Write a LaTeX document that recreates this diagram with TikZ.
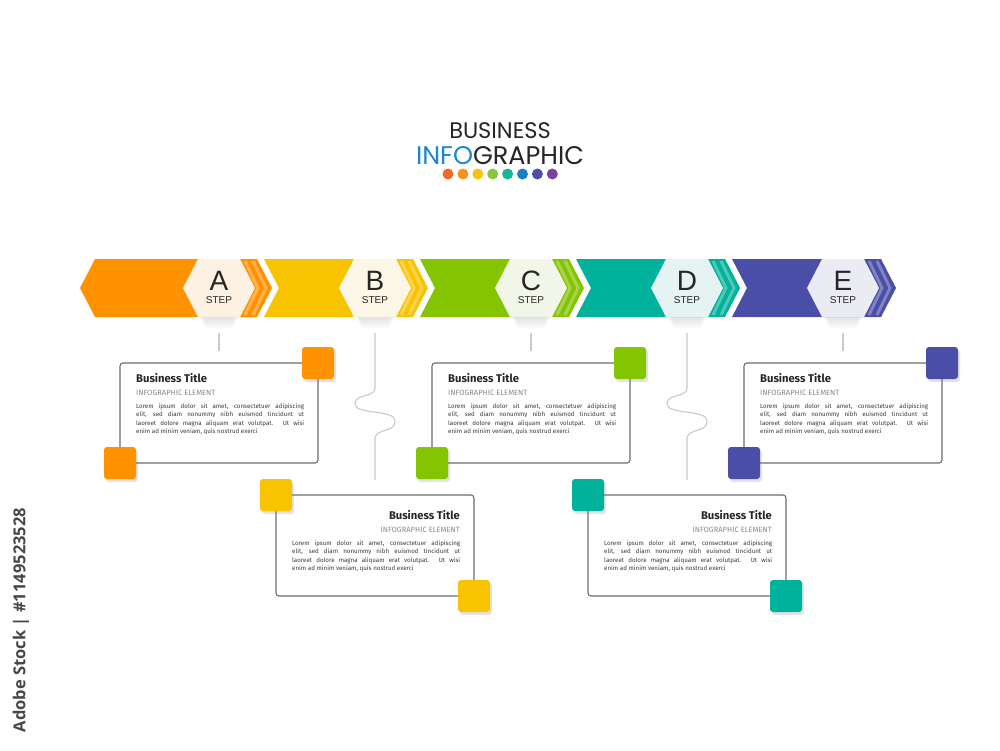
\documentclass[tikz,border=0pt]{standalone}
\usepackage{fontspec}
\setmainfont{Liberation Sans}
\newfontfamily\popfont{Poppins}
\newfontfamily\boxfont{Fira Sans}
\newfontfamily\creditfont{Open Sans}
\usetikzlibrary{shadows}
\definecolor{cA}{HTML}{FF9200}
\definecolor{cB}{HTML}{F8C300}
\definecolor{cC}{HTML}{84C400}
\definecolor{cD}{HTML}{00B29B}
\definecolor{cE}{HTML}{4A4EA6}
\definecolor{hA}{HTML}{FCF1E3}
\definecolor{hB}{HTML}{FBF6E6}
\definecolor{hC}{HTML}{F1F6E8}
\definecolor{hD}{HTML}{E5F3F3}
\definecolor{hE}{HTML}{EBEBF3}
\definecolor{d1}{HTML}{F26A24}
\definecolor{d2}{HTML}{F7921E}
\definecolor{d3}{HTML}{F9C20F}
\definecolor{d4}{HTML}{8BC53F}
\definecolor{d5}{HTML}{17B496}
\definecolor{d6}{HTML}{1B80C3}
\definecolor{d7}{HTML}{4B4FA4}
\definecolor{d8}{HTML}{7B3F9E}
\definecolor{infoblue}{HTML}{1E86CF}
\definecolor{darktxt}{HTML}{262626}
\definecolor{bodytxt}{HTML}{3A3A3A}
\definecolor{subtxt}{HTML}{8A8A8A}
\definecolor{linegray}{HTML}{C9C9C9}
\definecolor{framegray}{HTML}{6E6E6E}
\newcommand{\bodylines}{%
\makebox[168pt][s]{Lorem ipsum dolor sit amet, consectetuer adipiscing}\\
\makebox[168pt][s]{elit, sed diam nonummy nibh euismod tincidunt ut}\\
\makebox[168pt][s]{laoreet dolore magna aliquam erat volutpat. Ut wisi}\\
enim ad minim veniam, quis nostrud exerci}
\begin{document}
\begin{tikzpicture}[x=1pt,y=-1pt,
  conn/.style={draw=linegray,line width=1.1pt},
  frame/.style={draw=framegray,line width=1.1pt,rounded corners=3pt},
  sq/.style={minimum size=32pt,inner sep=0pt,rounded corners=3pt,
    drop shadow={opacity=0.22,shadow xshift=2pt,shadow yshift=-3pt}},
  stripe/.style={white,opacity=0.3,line width=3pt},
  lettertxt/.style={font=\fontsize{28}{28}\selectfont,text=darktxt},
  steptxt/.style={font=\fontsize{10}{10}\selectfont,text=darktxt},
  btitle/.style={font=\boxfont\bfseries\fontsize{11.2}{11.2}\selectfont,text=darktxt,inner sep=0pt},
  bsub/.style={font=\boxfont\fontsize{7.6}{7.6}\selectfont,text=subtxt,inner sep=0pt},
  bbody/.style={font=\boxfont\fontsize{6.2}{8.4}\selectfont,text=bodytxt,inner sep=0pt,align=left}]
\useasboundingbox (0,0) rectangle (1000,750);
\fill[white] (0,0) rectangle (1000,750);

% title
\node[font=\popfont\fontsize{22.5}{22.5}\selectfont,text=darktxt] (title1) at (500,131) {BUSINESS};
\node[font=\popfont\fontsize{25.5}{25.5}\selectfont,text=darktxt] (title2) at (500,156) {\textcolor{infoblue}{INFO}GRAPHIC};
\foreach \c [count=\k from 0] in {d1,d2,d3,d4,d5,d6,d7,d8}
  \fill[\c] (448+14.9*\k,174) circle (5.5);

% soft shadows below hexagons
\foreach \i in {0,...,4}{
  \pgfmathsetmacro{\X}{219+156*\i}
  \foreach \s in {3,5,7,9,11}
    \fill[black,opacity=0.02] (\X-24+\s*0.4,300) -- (\X+24-\s*0.4,300) -- (\X+20-\s*0.6,317+\s) -- (\X-20+\s*0.6,317+\s) -- cycle;
}

% band segments
\foreach \L/\col/\hcol/\i in {A/cA/hA/0,B/cB/hB/1,C/cC/hC/2,D/cD/hD/3,E/cE/hE/4}{
  \pgfmathsetmacro{\R}{272+156*\i}
  \pgfmathsetmacro{\Lft}{\R-164}
  \pgfmathsetmacro{\X}{219+156*\i}
  \ifnum\i=0
    \fill[\col] (95,259) -- (\R-15,259) -- (\R,288) -- (\R-15,317) -- (95,317) -- (80,288) -- cycle;
  \else
    \fill[\col] (\Lft,259) -- (\R-15,259) -- (\R,288) -- (\R-15,317) -- (\Lft,317) -- (\Lft+15,288) -- cycle;
  \fi
  \draw[stripe] (\R-27,261) -- (\R-14,288) -- (\R-27,315);
  \draw[stripe] (\R-19,261) -- (\R-6,288) -- (\R-19,315);
  \fill[\hcol] (\X-21,259) -- (\X+21,259) -- (\X+36,288) -- (\X+21,317) -- (\X-21,317) -- (\X-36,288) -- cycle;
  \node[lettertxt] (let\L) at (\X,281) {\L};
  \node[steptxt] (step\L) at (\X,300.5) {STEP};
  \coordinate (top\L) at (\X,333);
}

% connectors
\coordinate (endA) at (219,351);
\coordinate (endC) at (531,351);
\coordinate (endE) at (843,351);
\coordinate (endB) at (375,480);
\coordinate (endD) at (687,480);
\draw[conn] (topA) -- (endA);
\draw[conn] (topC) -- (endC);
\draw[conn] (topE) -- (endE);
\draw[conn] (topB) -- (375,388) .. controls (375,398) and (355,393) .. (355,404)
  .. controls (355,415) and (395,409) .. (395,421) .. controls (395,433) and (375,428) .. (375,439) -- (endB);
\draw[conn] (topD) -- (687,388) .. controls (687,398) and (667,393) .. (667,404)
  .. controls (667,415) and (707,409) .. (707,421) .. controls (707,433) and (687,428) .. (687,439) -- (endD);

% top boxes (A, C, E)
\foreach \L/\col/\i in {A/cA/0,C/cC/2,E/cE/4}{
  \pgfmathsetmacro{\xo}{120+156*\i}
  \draw[frame] (\xo,363) rectangle (\xo+198,463);
  \node[sq,fill=\col] (sqtr\L) at (\xo+198,363) {};
  \node[sq,fill=\col] (sqbl\L) at (\xo,463) {};
  \node[btitle,anchor=base west] (title\L) at (\xo+16,382) {Business Title};
  \node[bsub,anchor=base west] (sub\L) at (\xo+16,395.5) {INFOGRAPHIC ELEMENT};
  \node[bbody,anchor=north west] (body\L) at (\xo+16,403.5) {\bodylines};
}
% bottom boxes (B, D)
\foreach \L/\col/\i in {B/cB/1,D/cD/3}{
  \pgfmathsetmacro{\xo}{120+156*\i}
  \draw[frame] (\xo,495) rectangle (\xo+198,596);
  \node[sq,fill=\col] (sqtl\L) at (\xo,495) {};
  \node[sq,fill=\col] (sqbr\L) at (\xo+198,596) {};
  \node[btitle,anchor=base east] (title\L) at (\xo+184,519) {Business Title};
  \node[bsub,anchor=base east] (sub\L) at (\xo+184,532.5) {INFOGRAPHIC ELEMENT};
  \node[bbody,anchor=north west] (body\L) at (\xo+16,540.5) {\bodylines};
}

% side credit
\node[rotate=90,font=\creditfont\bfseries\fontsize{16.5}{16.5}\selectfont,text=darktxt!85] (credit) at (21,620) {Adobe Stock | \#1149523528};
\end{tikzpicture}
\end{document}
